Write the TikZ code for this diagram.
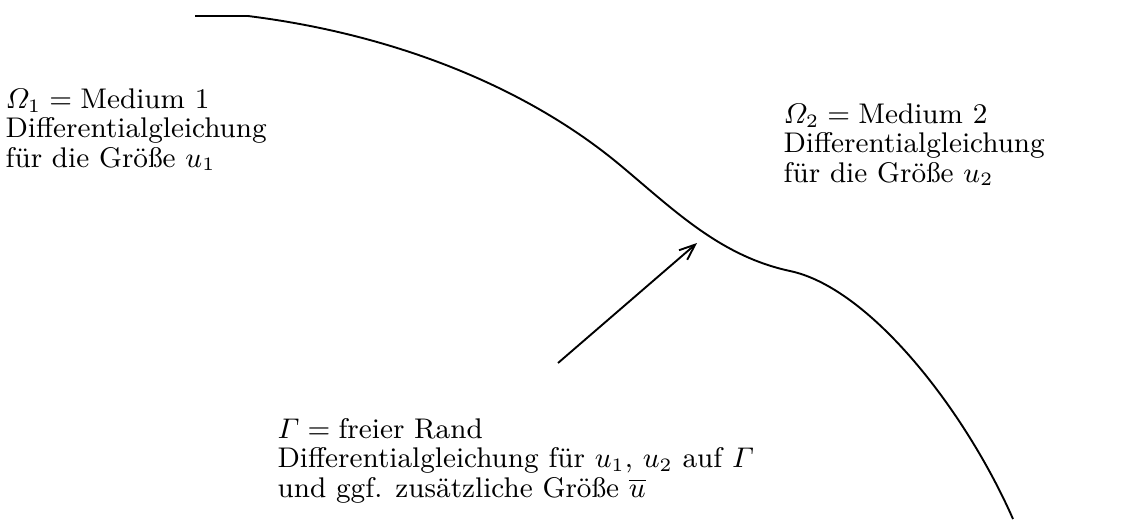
\documentclass[tikz,border=0pt]{standalone}
\usepackage{amsmath}
\usetikzlibrary{arrows.meta}
\begin{document}
\begin{tikzpicture}[x=0.3165pt,y=-0.3165pt,
  boundary/.style={line width=0.6pt},
  pointer/.style={line width=0.6pt,-{Straight Barb[length=5pt,width=4pt]}},
  label/.style={inner sep=0pt,anchor=base west,align=left,font=\fontsize{9}{9.2}\selectfont}]
\useasboundingbox (0,0) rectangle (1124,519);
% free boundary curve
\draw[boundary] (195,16) -- (248,16)
  .. controls (400,35) and (530,90) .. (620,165)
  .. controls (674,210) and (720,256) .. (790,271)
  .. controls (870,288) and (965,410) .. (1013,519);
% labels
\node[label] (m1) at (5,167) {$\varOmega_1 = {}$Medium 1\\Differentialgleichung\\für die Größe $u_1$};
\node[label] (m2) at (783,182) {$\varOmega_2 = {}$Medium 2\\Differentialgleichung\\für die Größe $u_2$};
\node[label] (g) at (277,497) {$\varGamma = {}$freier Rand\\Differentialgleichung für $u_1$, $u_2$ auf $\varGamma$\\und ggf. zusätzliche Größe $\overline{u}$};
% arrow
\coordinate (tail) at (558,363);
\coordinate (head) at (697,243);
\draw[pointer] (tail) -- (head);
\end{tikzpicture}
\end{document}
